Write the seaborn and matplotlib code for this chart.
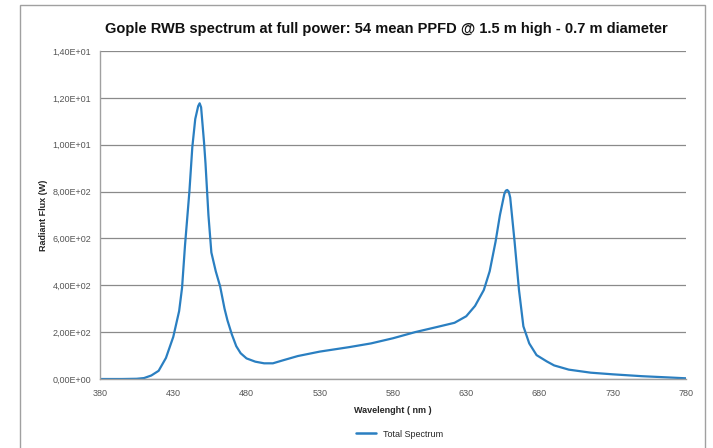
import pandas as pd
import seaborn as sns
import matplotlib.pyplot as plt
from matplotlib.patches import Rectangle

# Spectrum
wavelength = [380, 395, 405, 410, 415, 420, 425, 430, 434, 436, 438, 441, 443, 445,
              447, 448, 449, 451, 452, 454, 456, 459, 462, 465, 467, 470, 473, 476,
              480, 486, 492, 498, 505, 515, 530, 550, 565, 580, 595, 610, 622, 630,
              636, 642, 646, 650, 653, 656, 657, 658, 659, 660, 663, 666, 669, 673,
              678, 685, 690, 700, 715, 730, 750, 767, 780]
flux = [0, 0, 1, 4, 15, 35, 90, 180, 290, 390, 570, 800, 990, 1110,
        1165, 1177, 1160, 1010, 920, 700, 540, 460, 395, 300, 250, 190, 140, 110,
        88, 74, 67, 67, 80, 98, 117, 136, 152, 174, 200, 222, 240, 268,
        312, 380, 460, 586, 700, 790, 804, 807, 800, 775, 586, 380, 225, 152,
        102, 75, 58, 40, 27, 20, 12, 7, 3]

y_ticks = [0, 200, 400, 600, 800, 1000, 1200, 1400]
y_labels = ["0,00E+00", "2,00E+02", "4,00E+02", "6,00E+02", "8,00E+02",
            "1,00E+01", "1,20E+01", "1,40E+01"]
x_ticks = [380, 430, 480, 530, 580, 630, 680, 730, 780]

df = pd.DataFrame({"Wavelength": wavelength, "Flux": flux, "Series": "Total Spectrum"})

sns.set_style("white")
plt.rcParams["font.family"] = ["Liberation Sans", "DejaVu Sans"]

fig = plt.figure(figsize=(7.13, 4.48), dpi=100)
ax = fig.add_axes([0.1403, 0.154, 0.8218, 0.732])

sns.lineplot(data=df, x="Wavelength", y="Flux", hue="Series",
             palette=["#2a7fc1"], linewidth=1.6, ax=ax, legend=False)

ax.set_xlim(380, 780)
ax.set_ylim(0, 1400)
ax.set_xticks(x_ticks)
ax.set_yticks(y_ticks)
ax.set_yticklabels(y_labels)
ax.tick_params(axis="both", labelsize=6.5, colors="#555555", length=3, width=0.8,
               direction="out")
ax.tick_params(axis="x", pad=4)
ax.grid(axis="y", color="#8a8a8a", linewidth=0.9)
ax.set_axisbelow(True)
for side in ["top", "right"]:
    ax.spines[side].set_visible(False)
for side in ["left", "bottom"]:
    ax.spines[side].set_color("#a0a0a0")
    ax.spines[side].set_linewidth(1)

ax.set_title("Gople RWB spectrum at full power: 54 mean PPFD @ 1.5 m high - 0.7 m diameter",
             fontsize=10.5, fontweight="bold", pad=13, color="#111111", x=0.488)
ax.set_xlabel("Wavelenght ( nm )", fontsize=6.5, fontweight="bold", labelpad=6)
ax.set_ylabel("Radiant Flux (W)", fontsize=6.5, fontweight="bold", labelpad=3)

# legend below the plot
handle = plt.Line2D([], [], color="#2a7fc1", linewidth=1.8)
fig.legend([handle], ["Total Spectrum"], loc="center", bbox_to_anchor=(0.56, 0.031),
           frameon=False, fontsize=6.5, handlelength=2.2)

# outer chart frame
fig.add_artist(Rectangle((0.028, -0.1), 0.961, 1.089, transform=fig.transFigure,
                         fill=False, edgecolor="#a0a0a0", linewidth=1))

fig.savefig("out.png", dpi=100)
